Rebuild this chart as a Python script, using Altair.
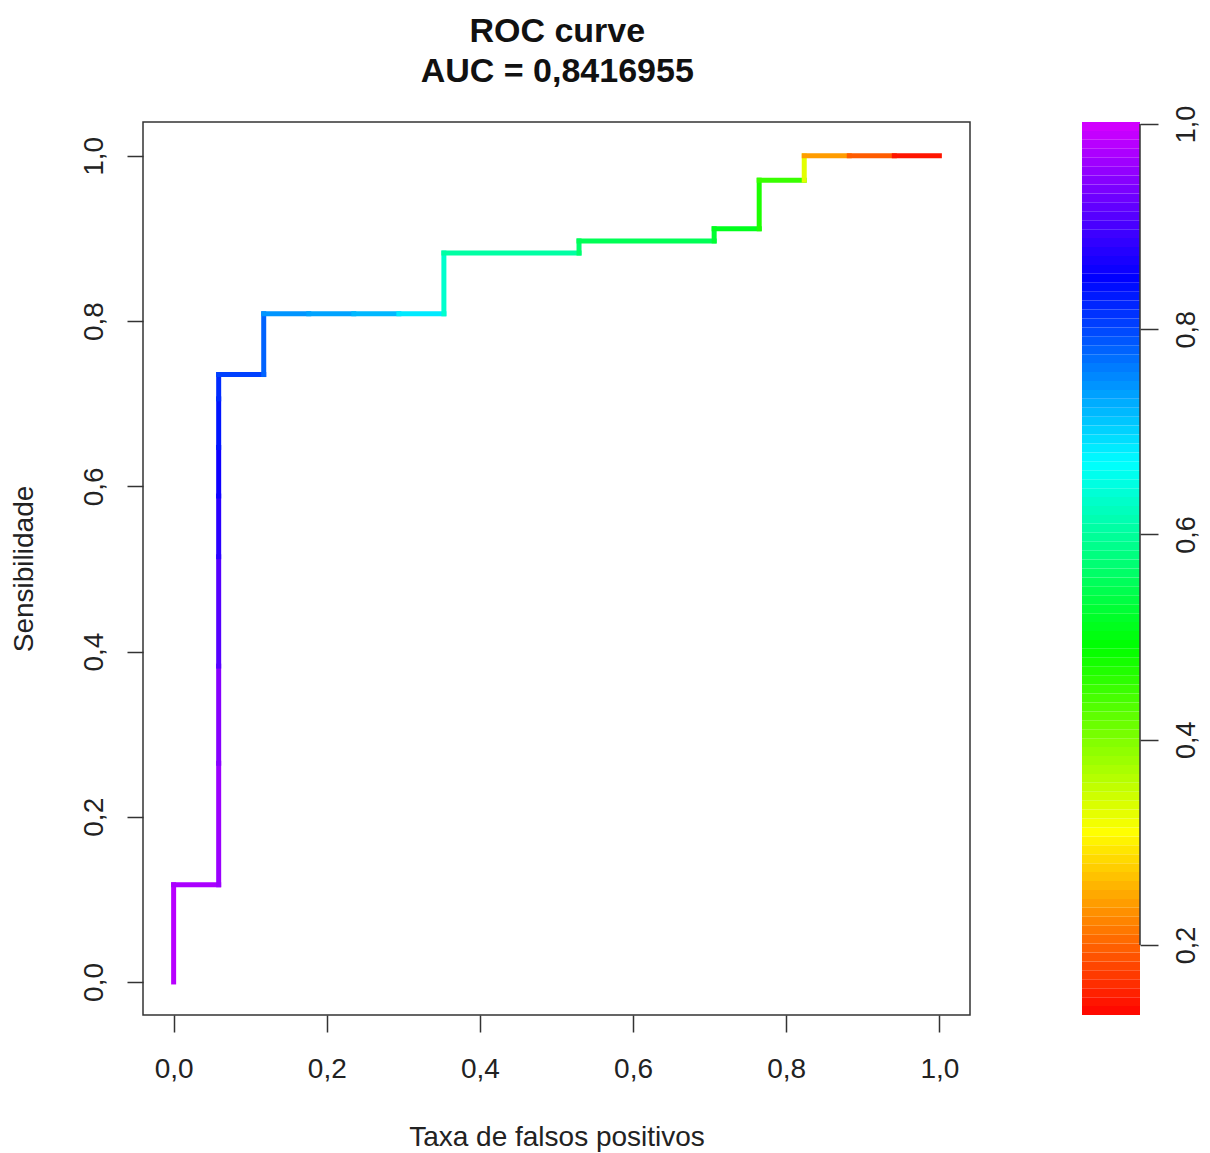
import altair as alt
import pandas as pd
import numpy as np

# ---- data ----
N_NEG = 17
N_POS = 68
fp_counts = [0, 0, 1, 1, 1, 1, 1, 1, 1, 1, 2, 2, 3, 4, 5, 6, 6, 9, 9, 12, 12, 13, 13, 14, 14, 15, 16, 17]
tp_counts = [0, 8, 8, 18, 26, 35, 40, 44, 48, 50, 50, 55, 55, 55, 55, 55, 60, 60, 61, 61, 62, 62, 66, 66, 68, 68, 68, 68]
cutoffs = [1.0, 0.98, 0.97, 0.96, 0.945, 0.91, 0.88, 0.86, 0.835, 0.82,
           0.805, 0.78, 0.745, 0.735, 0.72, 0.685,
           0.635, 0.605, 0.565, 0.55, 0.525, 0.51, 0.47, 0.45, 0.33,
           0.24, 0.195, 0.145]
axis_ticks = [0.0, 0.2, 0.4, 0.6, 0.8, 1.0]
cbar_ticks = [0.2, 0.4, 0.6, 0.8, 1.0]
cbar_min, cbar_max = 0.1317, 1.002
color_stops = [0.13, 0.31, 0.49, 0.67, 0.85, 1.0]
color_hex = ["#ff0000", "#ffff00", "#00ff00", "#00ffff", "#0000ff", "#d400ff"]
title_lines = ["ROC curve", "AUC = 0,8416955"]

FONT = "Liberation Sans"
TXT = "#222222"

fpr = [c / N_NEG for c in fp_counts]
tpr = [c / N_POS for c in tp_counts]
seg = pd.DataFrame({
    "x": fpr[:-1], "y": tpr[:-1],
    "x2": fpr[1:], "y2": tpr[1:],
    "cutoff": cutoffs[1:],
})

label_expr = "replace(format(datum.value, '.1f'), '.', ',')"
color_scale = alt.Scale(domain=color_stops, range=color_hex, interpolate="rgb")

x_axis = alt.Axis(values=axis_ticks, labelExpr=label_expr, title="Taxa de falsos positivos",
                  domain=False, grid=False, tickSize=17, tickWidth=1.5, tickColor="#333",
                  labelPadding=23, labelFontSize=28, labelFont=FONT, labelColor=TXT,
                  labelFlush=False, titleFontSize=28, titleFont=FONT, titleColor=TXT,
                  titleFontWeight="normal", titlePadding=40)
y_axis = alt.Axis(values=axis_ticks, labelExpr=label_expr, title="Sensibilidade",
                  domain=False, grid=False, tickSize=16, tickWidth=1.5, tickColor="#333",
                  labelPadding=25, labelFontSize=28, labelFont=FONT, labelColor=TXT,
                  labelAngle=-90, labelAlign="center", labelBaseline="alphabetic",
                  labelFlush=False, titleFontSize=28, titleFont=FONT, titleColor=TXT,
                  titleFontWeight="normal", titlePadding=42)

main = alt.Chart(seg).mark_rule(strokeWidth=5, strokeCap="square").encode(
    x=alt.X("x:Q", scale=alt.Scale(domain=[-0.04, 1.04], nice=False, zero=False), axis=x_axis),
    y=alt.Y("y:Q", scale=alt.Scale(domain=[-0.04, 1.041], nice=False, zero=False), axis=y_axis),
    x2="x2:Q",
    y2="y2:Q",
    color=alt.Color("cutoff:Q", scale=color_scale, legend=None),
).properties(width=827, height=893, view=alt.ViewBackground(stroke="#333", strokeWidth=1.5))

# ---- colour bar ----
edges = np.linspace(cbar_min, cbar_max, 101)
bands = pd.DataFrame({"lo": edges[:-1], "hi": edges[1:], "mid": (edges[:-1] + edges[1:]) / 2})
cb_scale = alt.Scale(domain=[cbar_min, cbar_max], nice=False, zero=False)
cb_axis = alt.Axis(orient="right", values=cbar_ticks, labelExpr=label_expr, title=None,
                   domain=False, grid=False, tickSize=18, tickWidth=1.5, tickColor="#333",
                   labelPadding=15, labelFontSize=27, labelFont=FONT, labelColor=TXT,
                   labelAngle=-90, labelAlign="center", labelBaseline="top", labelFlush=False)
cb = alt.Chart(bands).mark_rect().encode(
    x=alt.value(0), x2=alt.value(58),
    y=alt.Y("lo:Q", scale=cb_scale, axis=cb_axis),
    y2="hi:Q",
    color=alt.Color("mid:Q", scale=color_scale, legend=None),
)
cb_line = alt.Chart(pd.DataFrame({"a": [cbar_ticks[0]], "b": [cbar_ticks[-1]]})).mark_rule(
    color="#333", strokeWidth=1.5
).encode(
    x=alt.value(58),
    y=alt.Y("a:Q", scale=cb_scale, axis=cb_axis),
    y2="b:Q",
)
cbar = alt.layer(cb, cb_line).properties(width=58, height=893)

chart = alt.hconcat(main, cbar, spacing=110).properties(
    title=alt.TitleParams(title_lines, fontSize=34, font=FONT, fontWeight="bold", color="#111",
                          anchor="start", align="center", dx=548, lineHeight=40, offset=16),
    padding={"left": 1, "top": 6, "right": 0, "bottom": 0},
).configure_view(stroke="transparent")

chart.save("out.html", embed_options={"renderer": "svg", "actions": False})
